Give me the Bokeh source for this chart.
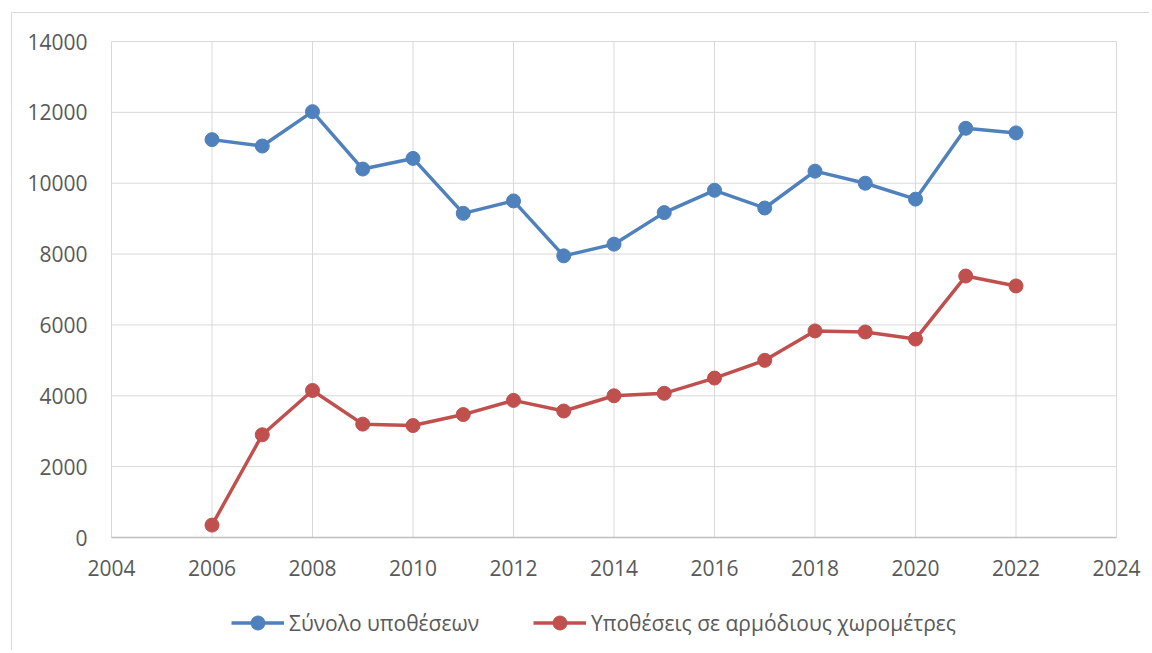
from bokeh.plotting import figure
from bokeh.models import ColumnDataSource, Legend, LegendItem, Range1d
from bokeh.embed import file_html
from bokeh.resources import INLINE

years = [2006, 2007, 2008, 2009, 2010, 2011, 2012, 2013, 2014, 2015, 2016,
         2017, 2018, 2019, 2020, 2021, 2022]
total_cases = [11230, 11050, 12020, 10400, 10700, 9150, 9500, 7950, 8280, 9170,
               9800, 9300, 10340, 10000, 9550, 11550, 11420]
surveyor_cases = [350, 2900, 4150, 3200, 3160, 3470, 3870, 3570, 4000, 4070,
                  4500, 5000, 5830, 5800, 5600, 7380, 7100]
x_ticks = [2004, 2006, 2008, 2010, 2012, 2014, 2016, 2018, 2020, 2022, 2024]
y_ticks = [0, 2000, 4000, 6000, 8000, 10000, 12000, 14000]
series_names = ["Σύνολο υποθέσεων", "Υποθέσεις σε αρμόδιους χωρομέτρες"]

BLUE = "#4f81bd"
RED = "#c0504d"
GRID = "#d9d9d9"
TXT = "#595959"
FONT = "Open Sans"

# canvas 1138x638; plot area spans px 99..1104 horizontally, 28..524 vertically
W, H = 1138, 638
PL, PR, PT, PB = 99, 1104, 28, 524
X0, X1 = x_ticks[0], x_ticks[-1]
Y0, Y1 = y_ticks[0], y_ticks[-1]
xs = (X1 - X0) / (PR - PL)
ys = (Y1 - Y0) / (PB - PT)
x_range = Range1d(X0 - PL * xs, X1 + (W - PR) * xs)
y_range = Range1d(Y0 - (H - PB) * ys, Y1 + PT * ys)

p = figure(width=W, height=H, output_backend="svg", toolbar_location=None,
           x_range=x_range, y_range=y_range,
           x_axis_location=None, y_axis_location=None,
           min_border_left=0, min_border_right=0, min_border_top=0,
           min_border_bottom=0)
p.styles = {"border-left": "1px solid #d9d9d9", "border-top": "1px solid #d9d9d9",
            "margin-left": "11px", "margin-top": "12px"}
p.outline_line_color = None
p.xgrid.visible = False
p.ygrid.visible = False

n_x = len(x_ticks)
n_y = len(y_ticks)
# gridlines
p.segment(x0=x_ticks, y0=[Y0] * n_x, x1=x_ticks, y1=[Y1] * n_x,
          line_color=GRID, line_width=1)
p.segment(x0=[X0] * n_y, y0=y_ticks, x1=[X1] * n_y, y1=y_ticks,
          line_color=GRID, line_width=1)
# bottom axis line
p.segment(x0=[X0], y0=[Y0], x1=[X1], y1=[Y0], line_color="#bfbfbf", line_width=1.3)

# tick labels
p.text(x=x_ticks, y=[Y0] * n_x, text=[str(t) for t in x_ticks],
       y_offset=30, text_align="center", text_baseline="middle",
       text_font={"value": FONT}, text_font_size="21px", text_color=TXT)
p.text(x=[X0] * n_y, y=y_ticks, text=[str(t) for t in y_ticks],
       x_offset=-24, text_align="right", text_baseline="middle",
       text_font={"value": FONT}, text_font_size="21px", text_color=TXT)

src = ColumnDataSource(dict(x=years, a=total_cases, b=surveyor_cases))

l1 = p.line("x", "a", source=src, line_color=BLUE, line_width=3.5)
c1 = p.scatter("x", "a", source=src, size=14, fill_color=BLUE, line_color=BLUE)
l2 = p.line("x", "b", source=src, line_color=RED, line_width=3.5)
c2 = p.scatter("x", "b", source=src, size=14, fill_color=RED, line_color=RED)

legend = Legend(items=[LegendItem(label=series_names[0], renderers=[l1, c1]),
                       LegendItem(label=series_names[1], renderers=[l2, c2])],
                orientation="horizontal", location=(219, 11),
                label_text_font=FONT, label_text_font_size="21px",
                label_text_color=TXT, glyph_width=53, glyph_height=35,
                label_standoff=5, spacing=54, padding=0, margin=0,
                border_line_color=None, background_fill_alpha=0)
p.add_layout(legend, "center")

open("out.html", "w").write(file_html(p, INLINE))
